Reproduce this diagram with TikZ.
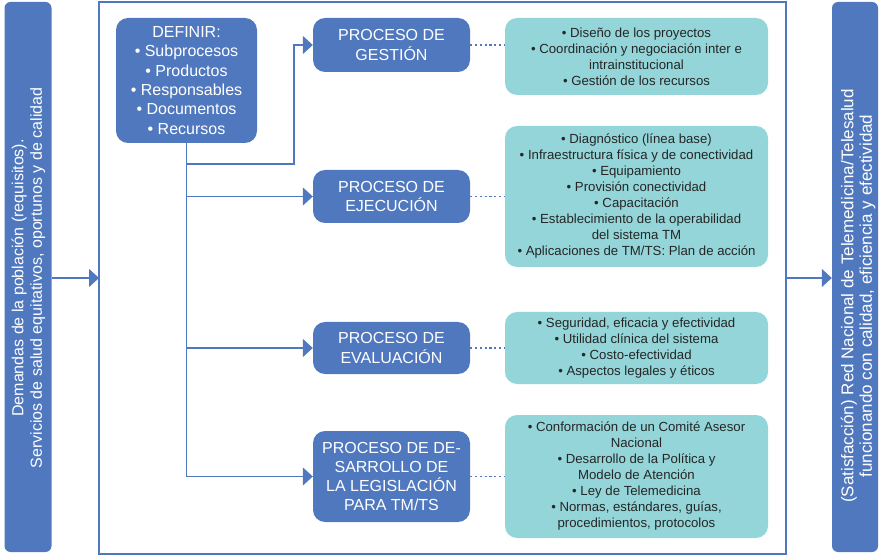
\documentclass[tikz,border=0pt]{standalone}
\usepackage{fontspec}
\setmainfont{Liberation Sans}
\usetikzlibrary{arrows.meta,positioning}
\definecolor{azul}{HTML}{5078BE}
\definecolor{turquesa}{HTML}{93D5D8}
\definecolor{texto}{HTML}{262626}

\begin{document}
\begin{tikzpicture}[x=1pt,y=-1pt,
  barra/.style={fill=azul,rounded corners=6pt,minimum width=47pt,minimum height=550pt,inner sep=0pt},
  barratexto/.style={rotate=90,text=white,align=center,inner sep=0pt,font=\fontsize{16}{18.5}\selectfont},
  definir/.style={fill=azul,rounded corners=12pt,text=white,align=center,minimum width=141pt,minimum height=125pt,inner sep=0pt,font=\fontsize{16}{19.3}\selectfont},
  proceso/.style={fill=azul,rounded corners=12pt,text=white,align=center,minimum width=157pt,minimum height=53pt,inner sep=0pt,font=\fontsize{16}{19.3}\selectfont},
  detalle/.style={fill=turquesa,rounded corners=12pt,text=texto,align=center,minimum width=263pt,inner sep=0pt,font=\fontsize{13.2}{16}\selectfont},
  linea/.style={azul,line width=1.2pt},
  flecha/.style={linea,-{Triangle[length=10pt,width=18pt]}},
  punteado/.style={azul,line width=1.5pt,dash pattern=on 2.2pt off 2.6pt}]
  \useasboundingbox (0,0) rectangle (879,556);

  \node[barra] (demanda) at (28,277) {};
  \node[barratexto] (tdemanda) at (28.5,278) {Demandas de la población (requisitos).\\Servicios de salud equitativos, oportunos y de calidad};
  \node[barra,minimum width=46pt] (red) at (855,277) {};
  \node[barratexto,font=\fontsize{17}{18.5}\selectfont] (tred) at (858,296) {(Satisfacción) Red Nacional de Telemedicina/Telesalud\\funcionando con calidad, eficiencia y efectividad};

  \draw[linea] (99,2) rectangle (786,554);
  \coordinate (entrada) at (99,278);
  \coordinate (salida) at (786,278);
  \draw[flecha] (demanda.east |- entrada) -- (entrada);
  \draw[flecha] (salida) -- (red.west |- salida);

  \node[definir] (definir) at (186.5,80.5) {DEFINIR:\\• Subprocesos\\• Productos\\• Responsables\\• Documentos\\• Recursos};

  \node[proceso,minimum height=54pt] (gestion) at (391.5,45) {PROCESO DE\\GESTIÓN};
  \node[proceso] (ejecuta) at (391.5,196.5) {PROCESO DE\\EJECUCIÓN};
  \node[proceso,minimum height=52pt] (evalua) at (391.5,348) {PROCESO DE\\EVALUACIÓN};
  \node[proceso,minimum height=91pt] (legisla) at (391.5,476.5) {PROCESO DE DE-\\SARROLLO DE\\LA LEGISLACIÓN\\PARA TM/TS};

  \node[detalle,minimum height=77pt] (tgestion) at (636.5,56.5) {• Diseño de los proyectos\\• Coordinación y negociación inter e\\intrainstitucional\\• Gestión de los recursos};
  \node[detalle,minimum height=141pt] (tejecuta) at (636.5,196.5) {• Diagnóstico (línea base)\\• Infraestructura física y de conectividad\\• Equipamiento\\• Provisión conectividad\\• Capacitación\\• Establecimiento de la operabilidad\\del sistema TM\\• Aplicaciones de TM/TS: Plan de acción};
  \node[detalle,minimum height=72pt] (tevalua) at (636.5,348) {• Seguridad, eficacia y efectividad\\• Utilidad clínica del sistema\\• Costo-efectividad\\• Aspectos legales y éticos};
  \node[detalle,minimum height=123pt] (tlegisla) at (636.5,476.5) {• Conformación de un Comité Asesor\\Nacional\\• Desarrollo de la Política y\\Modelo de Atención\\• Ley de Telemedicina\\• Normas, estándares, guías,\\procedimientos, protocolos};

  \coordinate (codo) at (294,164);
  \draw[flecha] (definir.south) |- (legisla.west);
  \draw[flecha] (definir.south |- codo) -- (codo) |- (gestion.west);
  \draw[flecha] (definir.south |- ejecuta.west) -- (ejecuta.west);
  \draw[flecha] (definir.south |- evalua.west) -- (evalua.west);

  \draw[punteado] (gestion.east) -- (gestion.east -| tgestion.west);
  \draw[punteado] (ejecuta.east) -- (ejecuta.east -| tejecuta.west);
  \draw[punteado] (evalua.east) -- (evalua.east -| tevalua.west);
  \draw[punteado] (legisla.east) -- (legisla.east -| tlegisla.west);
\end{tikzpicture}
\end{document}
